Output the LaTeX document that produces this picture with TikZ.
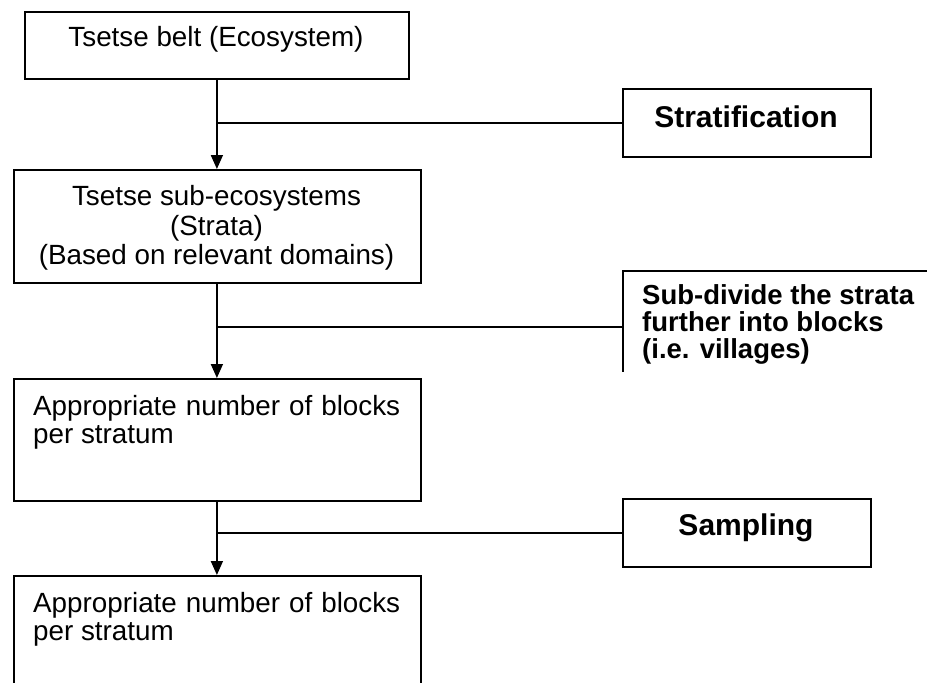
\documentclass[tikz,border=0pt]{standalone}
\usepackage{fontspec}
\setmainfont{Liberation Sans}
\usetikzlibrary{arrows.meta}
\begin{document}
\begin{tikzpicture}[x=1pt,y=-1pt,
  box/.style={draw, line width=1.8pt, rectangle, anchor=north west, inner sep=0pt},
  txt/.style={font=\fontsize{27.8}{30}\selectfont, inner sep=0pt},
  btxt/.style={font=\fontsize{30}{30}\selectfont\bfseries, inner sep=0pt},
  bstxt/.style={font=\fontsize{27.5}{27}\selectfont\bfseries, inner sep=0pt},
  conn/.style={line width=1.7pt},
  arr/.style={conn, -{Triangle[length=14pt,width=12pt]}}]
\useasboundingbox (0,0) rectangle (927,683);
\clip (0,0) rectangle (927,683);
% left column
\node[box, minimum width=384pt, minimum height=67pt] (b1) at (24,11) {};
\node[txt, anchor=base] (t1) at (216,46) {Tsetse belt (Ecosystem)};
\node[box, minimum width=407pt, minimum height=113pt] (b2) at (13,169) {};
\node[txt, anchor=base] (t2a) at (216.5,205) {Tsetse sub-ecosystems};
\node[txt, anchor=base] (t2b) at (216.5,235) {(Strata)};
\node[txt, anchor=base] (t2c) at (216.5,264) {(Based on relevant domains)};
\node[box, minimum width=407pt, minimum height=122pt] (b3) at (13,378) {};
\node[txt, anchor=base west] (t3a) at (33,415) {\makebox[367pt][s]{Appropriate number of blocks}};
\node[txt, anchor=base west] (t3b) at (33,443) {per stratum};
\node[box, minimum width=407pt, minimum height=150pt] (b4) at (13,575) {};
\node[txt, anchor=base west] (t4a) at (33,612) {\makebox[367pt][s]{Appropriate number of blocks}};
\node[txt, anchor=base west] (t4b) at (33,640) {per stratum};
% right column
\node[box, minimum width=248pt, minimum height=68pt] (s1) at (622,88) {};
\node[btxt, anchor=base] (ts1) at (746,127) {Stratification};
\begin{scope}
\clip (0,0) rectangle (927,371);
\node[box, minimum width=330pt, minimum height=112pt] (s2) at (622,270) {};
\node[bstxt, anchor=base west] (ts2a) at (642,304) {Sub-divide the strata};
\node[bstxt, anchor=base west] (ts2b) at (642,331) {further into blocks};
\node[bstxt, anchor=base west] (ts2c) at (642,358) {(i.e. villages)};
\end{scope}
\node[box, minimum width=248pt, minimum height=68pt] (s3) at (622,498) {};
\node[btxt, anchor=base] (ts3) at (746,535) {Sampling};
% connectors
\draw[arr] (b1.south) -- (b1.south |- b2.north);
\draw[conn] (s1.west) -- (s1.west -| b1.south);
\draw[arr] (b1.south |- b2.south) -- (b1.south |- b3.north);
\draw[conn] (s2.west) -- (s2.west -| b1.south);
\draw[arr] (b1.south |- b3.south) -- (b1.south |- b4.north);
\draw[conn] (s3.west) -- (s3.west -| b1.south);
\end{tikzpicture}
\end{document}
